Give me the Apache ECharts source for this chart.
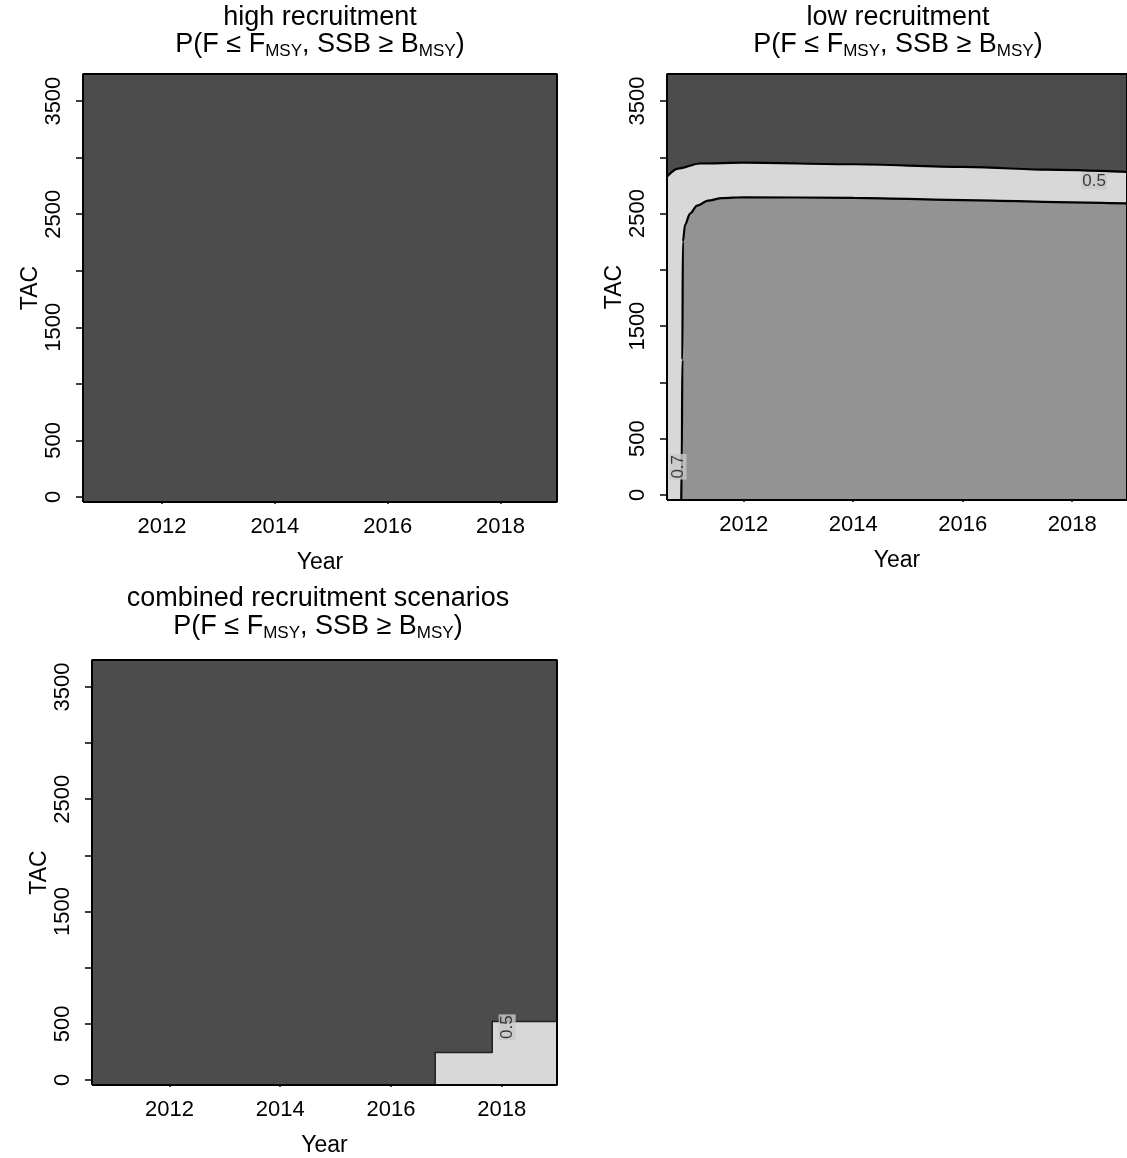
<!DOCTYPE html>
<html>
<head>
<meta charset="utf-8">
<script src="https://cdn.jsdelivr.net/npm/echarts@6/dist/echarts.min.js"></script>
<style>
html,body{margin:0;padding:0;background:#fff;}
#chart{width:1127px;height:1158px;}
</style>
</head>
<body>
<div id="chart"></div>
<script>
// ---------- data ----------
const yearRange = [2010.6, 2019];
const tacRange = [-45, 3740];
const yearTicks = [2012, 2014, 2016, 2018];
const tacTicks = [0, 500, 1000, 1500, 2000, 2500, 3000, 3500];
const tacTickLabels = [0, 500, 1500, 2500, 3500];

const panelTitles = ['high recruitment', 'low recruitment', 'combined recruitment scenarios'];

// low recruitment: contour P = 0.5 (upper) and P = 0.7 (lower), [year, TAC]
const lowContour05 = [[2010.6, 2830], [2010.8, 2900], [2011.2, 2945], [2012.0, 2952], [2014.0, 2938],
  [2016.0, 2915], [2017.5, 2890], [2019.0, 2870]];
const lowContour07 = [[2010.86, -45], [2010.87, 300], [2010.88, 1200], [2010.89, 2250], [2010.93, 2400],
  [2011.02, 2500], [2011.15, 2570], [2011.35, 2615], [2011.6, 2637], [2012.0, 2645], [2014.0, 2640],
  [2016.0, 2620], [2018.0, 2600], [2019.0, 2590]];
const lowContourLabels = [['0.5', 2018.4, 2790, 0], ['0.7', 2010.8, 250, 90]];

// combined scenarios: region with higher probability in late years at low TAC (step)
const combinedStepYears = [2016.8, 2017.83, 2019.0];
const combinedStepTAC = [245, 520];
const combinedContourLabels = [['0.5', 2018.1, 470, 90]];

// ---------- styling ----------
const FONT = 'Liberation Sans';
const C_DARK = '#4c4c4c';
const C_LIGHT = '#d8d8d8';
const C_MED = '#939393';

const grids = [
  {left: 83, top: 74, width: 474, height: 428},
  {left: 667, top: 74, width: 462, height: 426},
  {left: 92, top: 660, width: 465, height: 425}
];
const titleCenters = [[320, 18, 45], [898, 18, 45], [318, 599, 627]];

function xAxisFor(i) {
  return {
    type: 'value', gridIndex: i, min: yearRange[0], max: yearRange[1],
    name: 'Year', nameLocation: 'middle', nameGap: 49,
    nameTextStyle: {fontFamily: FONT, fontSize: 23, color: '#000'},
    axisLine: {show: false}, splitLine: {show: false},
    axisTick: {show: true, length: 7, inside: false, customValues: yearTicks, lineStyle: {color: '#000', width: 1.5}},
    axisLabel: {show: true, customValues: yearTicks, margin: 14, fontFamily: FONT, fontSize: 22, color: '#000',
      formatter: v => String(v)}
  };
}
function yAxisFor(i) {
  return {
    type: 'value', gridIndex: i, min: tacRange[0], max: tacRange[1],
    name: 'TAC', nameLocation: 'middle', nameGap: 28, nameRotate: 90,
    nameTextStyle: {fontFamily: FONT, fontSize: 23, color: '#000'},
    axisLine: {show: false}, splitLine: {show: false},
    axisTick: {show: true, length: 7, inside: false, customValues: tacTicks, lineStyle: {color: '#000', width: 1.5}},
    axisLabel: {show: true, customValues: tacTickLabels, rotate: 90, margin: 18, fontFamily: FONT, fontSize: 22, color: '#000',
      formatter: v => String(v)}
  };
}

function background(i, color) {
  return {
    type: 'line', xAxisIndex: i, yAxisIndex: i, z: 1, silent: true, symbol: 'none',
    data: [[yearRange[0], tacRange[1]], [yearRange[1], tacRange[1]]],
    lineStyle: {width: 0}, areaStyle: {color: color, opacity: 1, origin: 'start'}
  };
}
function frame(i) {
  return {
    type: 'line', xAxisIndex: i, yAxisIndex: i, z: 10, silent: true, symbol: 'none', clip: false,
    data: [[yearRange[0], tacRange[0]], [yearRange[1], tacRange[0]], [yearRange[1], tacRange[1]],
      [yearRange[0], tacRange[1]], [yearRange[0], tacRange[0]]],
    lineStyle: {color: '#000', width: 2}
  };
}
function contourArea(i, pts, color, z) {
  return {
    type: 'line', xAxisIndex: i, yAxisIndex: i, z: z, silent: true, symbol: 'none',
    smooth: 0.3, smoothMonotone: 'x', data: pts,
    lineStyle: {color: '#000', width: 2.2}, areaStyle: {color: color, opacity: 1, origin: 'start'}
  };
}
function labelSeries(i, labels) {
  return {
    type: 'scatter', xAxisIndex: i, yAxisIndex: i, z: 12, silent: true, symbolSize: 0,
    data: labels.map(l => ({value: [l[1], l[2]], name: l[0], label: {rotate: l[3]}})),
    label: {show: true, position: 'inside', formatter: p => p.name, fontFamily: FONT, fontSize: 17, color: '#111',
      backgroundColor: '#c9c9c9', padding: [0, 1]}
  };
}

const stepPts = [[combinedStepYears[0], tacRange[0]]];
combinedStepTAC.forEach((t, k) => {
  stepPts.push([combinedStepYears[k], t]);
  stepPts.push([combinedStepYears[k + 1], t]);
});

const series = [
  background(0, C_DARK), frame(0),
  background(1, C_DARK),
  contourArea(1, lowContour05, C_LIGHT, 2),
  contourArea(1, lowContour07, C_MED, 3),
  labelSeries(1, lowContourLabels),
  frame(1),
  background(2, C_DARK),
  {type: 'line', xAxisIndex: 2, yAxisIndex: 2, z: 2, silent: true, symbol: 'none', data: stepPts,
    lineStyle: {color: '#222', width: 1.5}, areaStyle: {color: C_LIGHT, opacity: 1, origin: 'start'}},
  labelSeries(2, combinedContourLabels),
  frame(2)
];

function titleGraphics(cx, y1, y2, text) {
  return [
    {type: 'text', x: cx, y: y1, style: {text: text, align: 'center', verticalAlign: 'middle',
      fontFamily: FONT, fontSize: 27, fill: '#000', lineHeight: 30}},
    {type: 'text', x: cx, y: y2, style: {
      text: '{n|P(F ≤ F}{s|MSY}{n|, SSB ≥ B}{s|MSY}{n|)}', align: 'center', verticalAlign: 'middle',
      rich: {
        n: {fontFamily: FONT, fontSize: 27, fill: '#000', lineHeight: 30},
        s: {fontFamily: FONT, fontSize: 17, fill: '#000', lineHeight: 16, verticalAlign: 'bottom'}
      }}}
  ];
}

const graphics = [].concat(
  titleGraphics(titleCenters[0][0], titleCenters[0][1], titleCenters[0][2], panelTitles[0]),
  titleGraphics(titleCenters[1][0], titleCenters[1][1], titleCenters[1][2], panelTitles[1]),
  titleGraphics(titleCenters[2][0], titleCenters[2][1], titleCenters[2][2], panelTitles[2])
);

const chart = echarts.init(document.getElementById('chart'), null, {renderer: 'canvas'});
chart.setOption({
  animation: false,
  backgroundColor: '#fff',
  grid: grids.map(g => Object.assign({containLabel: false}, g)),
  xAxis: [0, 1, 2].map(xAxisFor),
  yAxis: [0, 1, 2].map(yAxisFor),
  series: series,
  graphic: graphics
});
</script>
</body>
</html>
